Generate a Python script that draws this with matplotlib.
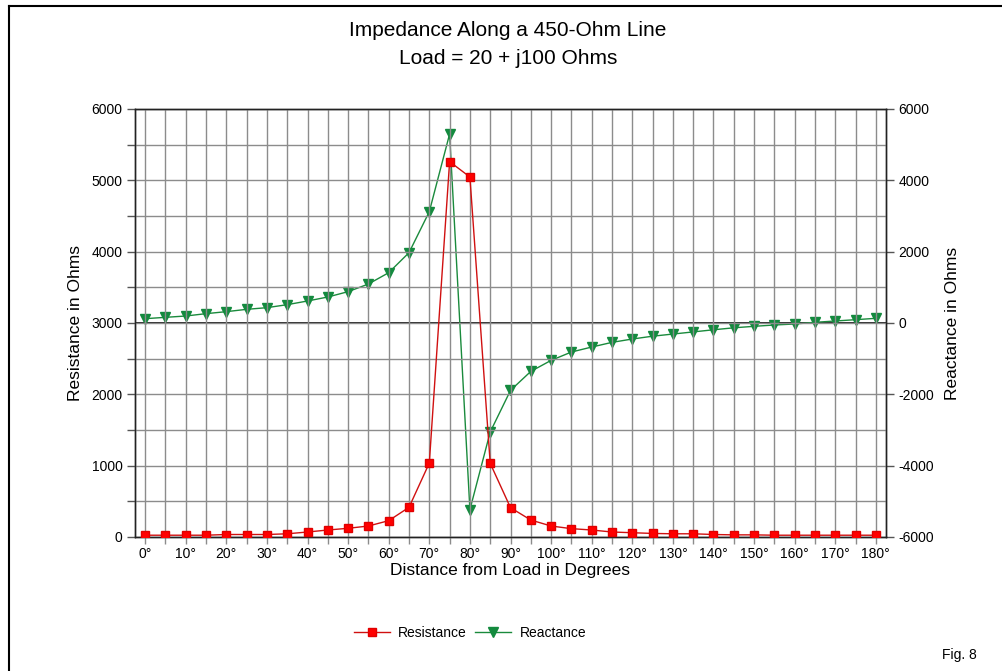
import matplotlib
matplotlib.use('Agg')
import matplotlib.pyplot as plt
from matplotlib.lines import Line2D
import numpy as np

plt.rcParams['font.family'] = ['Liberation Sans', 'DejaVu Sans']
plt.rcParams['axes.unicode_minus'] = False

# Distancia desde la carga (grados) y valores
degrees = list(range(0, 181, 5))
resistance = [25, 25, 25, 25, 35, 35, 35, 45, 70, 98, 122, 154, 229, 416, 1037,
              5262, 5047, 1033, 411, 238, 154, 117, 98, 70, 60, 50, 45, 45, 35,
              30, 30, 25, 25, 25, 25, 25, 25]
reactance = [121, 159, 196, 262, 318, 383, 430, 514, 617, 729, 879, 1093, 1411,
             1972, 3122, 5299, -5235, -3057, -1889, -1357, -1048, -814, -674,
             -543, -449, -370, -310, -250, -190, -135, -93, -56, -28, 19, 56, 93, 131]
tick_labels = [f'{d}°' if d % 10 == 0 else '' for d in degrees]

fig = plt.figure(figsize=(10.02, 6.71), dpi=100)
ax = fig.add_axes([135/1002, 1 - 537/671, 751/1002, 428/671])
ax2 = ax.twinx()

# Rejilla y ejes
ax.set_xlim(-2.5, 182.5)
ax.set_ylim(0, 6000)
ax.set_yticks(np.arange(0, 6001, 1000))
ax.set_yticks(np.arange(0, 6001, 500), minor=True)
ax.set_xticks(degrees)
ax.set_xticklabels(tick_labels)
ax.grid(True, which='both', color='#8c8c8c', lw=1)
ax.set_axisbelow(True)
ax.tick_params(axis='y', which='both', direction='out', length=6, width=1,
               color='#555555', labelsize=10, pad=3)
ax.tick_params(axis='x', direction='out', length=5, width=1, color='#8c8c8c',
               labelsize=10, pad=2)

ax2.set_ylim(-6000, 6000)
ax2.set_yticks(np.arange(-6000, 6001, 2000))
ax2.tick_params(axis='y', direction='out', length=6, width=1, color='#555555',
                labelsize=10, pad=3)
ax2.axhline(0, color='black', lw=1.2, zorder=1)

for a in (ax, ax2):
    for s in a.spines.values():
        s.set_color('#222222')
        s.set_linewidth(1)

# Series
ax.plot(degrees, resistance, color='#d01010', lw=1, marker='s', markersize=6,
        markerfacecolor='#ff0000', markeredgecolor='#e00000', zorder=5)
ax2.plot(degrees, reactance, color='#1a8a3c', lw=1, marker='v', markersize=7,
         markerfacecolor='#138a3e', markeredgecolor='#138a3e', zorder=4)
ax.set_zorder(ax2.get_zorder() + 1)
ax.patch.set_visible(False)

ax.set_ylabel('Resistance in Ohms', fontsize=12.5, labelpad=6)
ax2.set_ylabel('Reactance in Ohms', fontsize=12.5, labelpad=8)
ax.set_xlabel('Distance from Load in Degrees', fontsize=12.5, labelpad=2)

fig.text(0.507, 1 - 30/671, 'Impedance Along a 450-Ohm Line', ha='center',
         va='center', fontsize=15)
fig.text(0.507, 1 - 58/671, 'Load = 20 + j100 Ohms', ha='center',
         va='center', fontsize=15)

handles = [Line2D([], [], color='#d01010', lw=1, marker='s', markersize=6,
                  markerfacecolor='#ff0000', markeredgecolor='#e00000'),
           Line2D([], [], color='#1a8a3c', lw=1, marker='v', markersize=7,
                  markerfacecolor='#138a3e', markeredgecolor='#138a3e')]
fig.legend(handles, ['Resistance', 'Reactance'], loc='center',
           bbox_to_anchor=(0.469, 1 - 633/671), ncol=2, frameon=False,
           fontsize=10, handlelength=2.6, columnspacing=0.6, handletextpad=0.6)

fig.text(0.957, 1 - 655/671, 'Fig. 8', ha='center', va='center', fontsize=10)

# Marco de la imagen (solo izquierda y arriba visibles)
fig.add_artist(Line2D([9/1002, 9/1002], [0, 1 - 6/671], transform=fig.transFigure,
                      color='black', lw=1.5))
fig.add_artist(Line2D([9/1002, 1], [1 - 6/671, 1 - 6/671], transform=fig.transFigure,
                      color='black', lw=1.5))

fig.savefig('out.png', dpi=100)
